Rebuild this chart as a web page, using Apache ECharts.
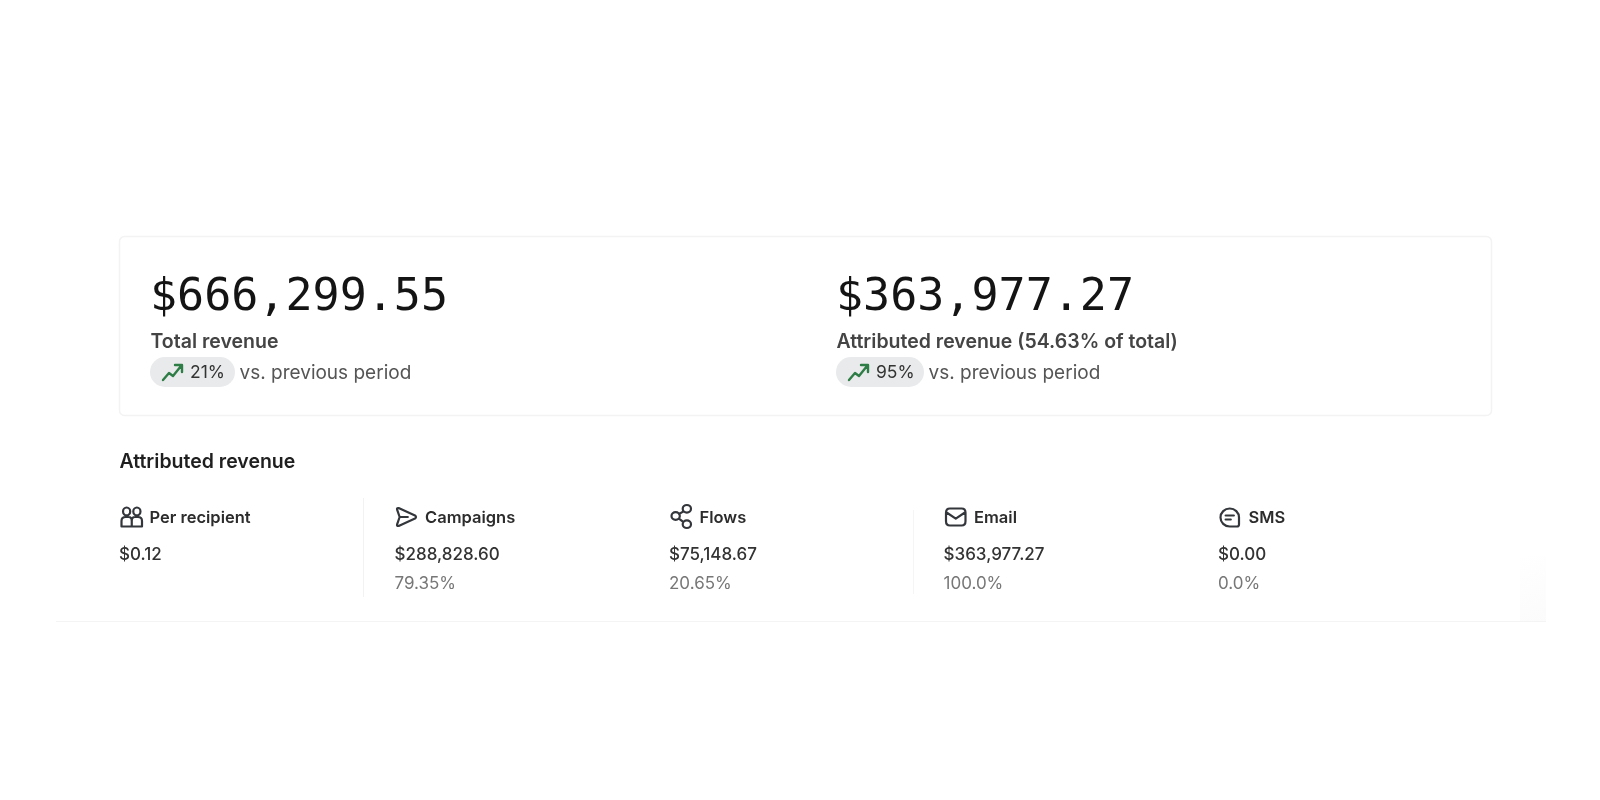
<!DOCTYPE html>
<html>
<head>
<meta charset="utf-8">
<title>Attributed revenue</title>
<style>
    html, body {margin: 0; padding: 0; background: #fff;}
    #main {width: 1600px; height: 800px;}
</style>
</head>
<body>
<div id="main"></div>
<script src="https://cdn.jsdelivr.net/npm/echarts@6/dist/echarts.min.js"></script>
<script>
var headlineValues = ['$666,299.55', '$363,977.27'];
var headlineLabels = ['Total revenue', 'Attributed revenue (54.63% of total)'];
var headlineDeltas = ['21%', '95%'];
var deltaSuffix = 'vs. previous period';
var sectionTitle = 'Attributed revenue';
var metricNames = ['Per recipient', 'Campaigns', 'Flows', 'Email', 'SMS'];
var metricValues = ['$0.12', '$288,828.60', '$75,148.67', '$363,977.27', '$0.00'];
var metricShares = ['', '79.35%', '20.65%', '100.0%', '0.0%'];

~function () {
    var myChart = echarts.init(document.getElementById('main'));
    var sans = 'Inter, "Noto Sans", sans-serif';
    var mono = '"DejaVu Sans Mono", monospace';

    // icon outlines, scaled into the box given for each one
    var trendIcon = 'M0 16L6 9L10 12L18 2M12 1L19 1L19 8';
    var metricIcons = [
        'M2.5 4.5A3.5 3.5 0 1 1 9.5 4.5A3.5 3.5 0 1 1 2.5 4.5ZM12.5 4.5A3.5 3.5 0 1 1 19.5 4.5A3.5 3.5 0 1 1 12.5 4.5Z' +
            'M1 18L1 13Q1 9.5 5 9.5L8 9.5Q11 9.5 11 13L11 18ZM11 18L21 18L21 13Q21 9.5 17 9.5L14 9.5Q11 9.5 11 13',
        'M3 1.5L19 8.5Q21 10 19 11.5L3 18.5Q1 19 1.5 17L4 10L1.5 3Q1 1 3 1.5ZM4 10L12 10',
        'M11.3 4.5A3.7 3.7 0 1 1 18.7 4.5A3.7 3.7 0 1 1 11.3 4.5ZM1.3 11.5A3.7 3.7 0 1 1 8.7 11.5A3.7 3.7 0 1 1 1.3 11.5Z' +
            'M11.3 19.5A3.7 3.7 0 1 1 18.7 19.5A3.7 3.7 0 1 1 11.3 19.5ZM8 9.5L12 7M8 14L12 17.5',
        'M5 2L17 2Q21 2 21 6L21 14Q21 18 17 18L5 18Q1 18 1 14L1 6Q1 2 5 2ZM2 6L11 11.5L20 6',
        'M10 1A9 9 0 0 1 19 10L19 17Q19 19 17 19L10 19A9 9 0 0 1 10 1ZM6 8L14 8M6 12L11 12'
    ];

    function text(x, y, str, size, color, weight, family) {
        return {
            type: 'text',
            x: x,
            y: y,
            silent: true,
            style: {
                text: str,
                fontSize: size,
                fontWeight: weight || 400,
                fontFamily: family || sans,
                fill: color,
                verticalAlign: 'middle',
                align: 'left'
            }
        };
    }

    function icon(path, x, y, w, h, color, lineWidth) {
        return {
            type: 'path',
            shape: {pathData: path, x: x, y: y, width: w, height: h, layout: 'cover'},
            style: {fill: 'none', stroke: color, lineWidth: lineWidth, lineJoin: 'round', lineCap: 'round'}
        };
    }

    function line(x1, y1, x2, y2, color) {
        return {
            type: 'line',
            silent: true,
            shape: {x1: x1, y1: y1, x2: x2, y2: y2},
            style: {stroke: color, lineWidth: 1}
        };
    }

    var items = [];
    var icons = [];

    // faint smudge and rule under the section
    items.push({
        type: 'rect',
        silent: true,
        shape: {x: 1520, y: 556, width: 26, height: 65},
        style: {
            fill: new echarts.graphic.LinearGradient(0, 0, 1, 1, [
                {offset: 0, color: '#ffffff'},
                {offset: 1, color: '#fbfbfb'}
            ])
        }
    });
    items.push(line(56, 621.5, 1546, 621.5, '#f4f4f4'));

    // top card
    items.push({
        type: 'rect',
        silent: true,
        shape: {x: 119.5, y: 236.5, width: 1372, height: 179, r: 5},
        style: {fill: '#fff', stroke: '#f3f3f3', lineWidth: 1.5}
    });

    var headX = [150, 836];
    var pillX = [150, 836];
    var pillW = [85, 88];
    headlineValues.forEach(function (v, i) {
        items.push(text(headX[i], 298, v, 45, '#141414', 400, mono));
        items.push(text(headX[i] + 0.5, 342, headlineLabels[i], 19.5, '#444444', 600));
        items.push({
            type: 'rect',
            silent: true,
            shape: {x: pillX[i], y: 357, width: pillW[i], height: 30, r: 15},
            style: {fill: '#e9eaeb'}
        });
        icons.push(icon(trendIcon, pillX[i] + 13, 365, 19, 15, '#2e7d46', 2.4));
        items.push(text(pillX[i] + 40, 373, headlineDeltas[i], 17.5, '#333333', 400));
        items.push(text(pillX[i] + pillW[i] + 4.5, 373, deltaSuffix, 19, '#555555', 400));
    });

    items.push(text(119.5, 462.5, sectionTitle, 19.5, '#1f1f1f', 600));

    // metric columns
    var colX = [119.5, 395, 669.5, 944, 1218.5];
    var iconBoxes = [[20.5, 507.5, 19], [19, 508, 18], [19.5, 505, 23], [19.5, 508.5, 17], [18.5, 508.5, 18]];
    metricNames.forEach(function (name, i) {
        var box = iconBoxes[i];
        icons.push(icon(metricIcons[i], colX[i] + 2, box[1], box[0], box[2], '#33363b', 2.2));
        items.push(text(colX[i] + 30, 518, name, 16.5, '#2c2c2c', 600));
        items.push(text(colX[i] - 0.5, 554.5, metricValues[i], 17, '#333333', 450));
        if (metricShares[i]) {
            items.push(text(colX[i] - 0.5, 584, metricShares[i], 17, '#777777', 400));
        }
    });
    items.push(line(363.5, 498, 363.5, 597, '#f2f2f2'));
    items.push(line(913.5, 510, 913.5, 594, '#f5f5f5'));

    var option = {
        backgroundColor: '#ffffff',
        animation: false,
        graphic: {elements: items},
        series: [
            {
                type: 'custom',
                coordinateSystem: 'none',
                silent: true,
                data: [0],
                renderItem: function () {
                    return {type: 'group', children: icons};
                }
            }
        ]
    };
    myChart.setOption(option);
}();
</script>
</body>
</html>
